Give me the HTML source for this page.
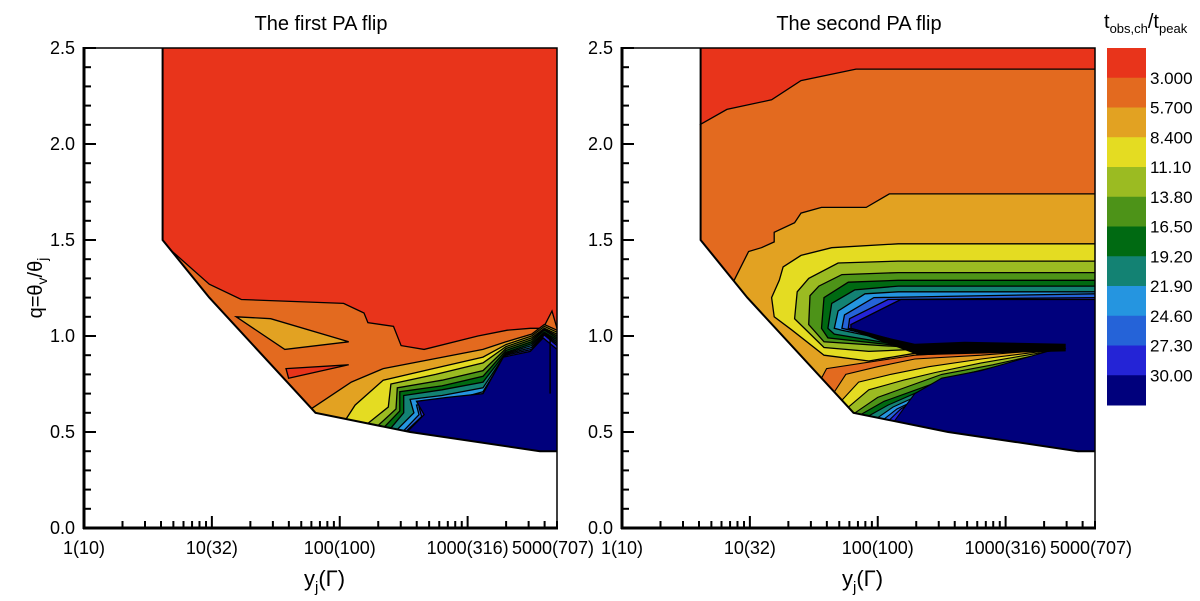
<!DOCTYPE html>
<html><head><meta charset="utf-8">
<style>
html,body{margin:0;padding:0;background:#fff;}
svg{display:block;font-family:"Liberation Sans",Arial,sans-serif;}
</style></head>
<body>
<svg id="chart" width="1200" height="601" viewBox="0 0 1200 601" xmlns="http://www.w3.org/2000/svg">
<g id="root"></g>
</svg>
<script>
// ---- data (x = log10(y_j), y = q) ----
const levelLabels = ["3.000","5.700","8.400","11.10","13.80","16.50","19.20","21.90","24.60","27.30","30.00"];
const levelColors = ["#e8341b","#e36a1f","#e2a222","#e4dc22","#9bbb22","#4d9318","#006a12","#138273","#2595e0","#2563d8","#2424d6","#00007c"];
const xTickValues = [1,10,100,1000,5000];
const xTickLabels = ["1(10)","10(32)","100(100)","1000(316)","5000(707)"];
const yTickValues = [0,0.5,1.0,1.5,2.0,2.5];
const yTickLabels = ["0.0","0.5","1.0","1.5","2.0","2.5"];
const domainBottom = [[0.615,1.5],[0.98,1.2],[1.81,0.6],[2.55,0.5],[3.565,0.4],[3.699,0.4]];
const domainLeftTop = 2.5;

// Left panel: level curves from the domain edge to the right edge (level index, points)
const leftCurves = [
 [1,[[0.68,1.45],[0.98,1.27],[1.23,1.19],[2.03,1.17],[2.19,1.12],[2.22,1.07],[2.42,1.05],[2.48,0.95],[2.66,0.93],[3.08,1.0],[3.31,1.03],[3.49,1.04],[3.59,1.04],[3.66,1.13],[3.699,1.04]]],
 [2,[[1.78,0.64],[2.09,0.76],[2.34,0.83],[2.73,0.88],[3.12,0.93],[3.3,0.97],[3.5,1.01],[3.6,1.06],[3.699,1.03]]],
 [3,[[2.05,0.59],[2.12,0.64],[2.34,0.77],[2.73,0.83],[3.12,0.89],[3.3,0.955],[3.5,1.0],[3.6,1.05],[3.699,1.02]]],
 [4,[[2.22,0.58],[2.38,0.63],[2.40,0.75],[2.75,0.80],[3.12,0.86],[3.3,0.945],[3.5,0.99],[3.6,1.04],[3.699,1.01]]],
 [5,[[2.30,0.58],[2.44,0.62],[2.45,0.73],[2.8,0.77],[3.12,0.82],[3.3,0.935],[3.5,0.98],[3.6,1.035],[3.699,1.0]]],
 [6,[[2.35,0.57],[2.47,0.61],[2.47,0.71],[2.8,0.74],[3.12,0.79],[3.3,0.925],[3.5,0.97],[3.6,1.03],[3.699,0.99]]],
 [7,[[2.40,0.56],[2.50,0.60],[2.50,0.69],[2.8,0.72],[3.12,0.76],[3.3,0.915],[3.5,0.96],[3.6,1.02],[3.699,0.98]]],
 [8,[[2.45,0.55],[2.58,0.60],[2.55,0.67],[2.8,0.69],[3.12,0.73],[3.3,0.91],[3.5,0.95],[3.6,1.015],[3.699,0.97]]],
 [9,[[2.50,0.53],[2.62,0.59],[2.60,0.64],[2.85,0.66],[3.12,0.71],[3.3,0.905],[3.5,0.94],[3.6,1.01],[3.699,0.96]]],
 [10,[[2.52,0.52],[2.64,0.58],[2.62,0.63],[2.85,0.65],[3.12,0.70],[3.3,0.90],[3.5,0.93],[3.6,1.005],[3.699,0.95]]],
 [11,[[2.53,0.51],[2.66,0.59],[2.60,0.66],[2.84,0.68],[3.12,0.70],[3.28,0.89],[3.49,0.92],[3.59,0.99],[3.699,0.93]]]
];
const leftIslands = [
 [2,[[1.19,1.10],[1.46,1.09],[2.07,0.97],[1.57,0.93]]],
 [0,[[1.58,0.83],[2.07,0.85],[1.60,0.78]]]
];
const leftSpike = [[3.645,1.0],[3.645,0.70]];

// Right panel: upper curves (right edge -> around -> diagonal/stripe)
const rightUpper = [
 [1,[[0.608,2.10],[0.82,2.18],[1.17,2.23],[1.40,2.33],[1.83,2.39],[3.699,2.39]]],
 [2,[[0.874,1.29],[0.99,1.44],[1.09,1.46],[1.19,1.49],[1.19,1.54],[1.35,1.59],[1.40,1.64],[1.56,1.67],[1.91,1.67],[2.09,1.74],[3.699,1.74]]]
];
const rightC = [
 [3,[[3.699,1.48],[2.16,1.48],[1.64,1.46],[1.40,1.42],[1.26,1.36],[1.23,1.29],[1.17,1.20],[1.19,1.10],[1.33,1.03],[1.58,0.90],[1.93,0.87],[2.29,0.91]]],
 [4,[[3.699,1.39],[2.16,1.39],[1.69,1.38],[1.46,1.30],[1.37,1.23],[1.35,1.09],[1.58,0.94],[1.93,0.92],[2.29,0.93]]],
 [5,[[3.699,1.33],[2.16,1.33],[1.72,1.32],[1.54,1.26],[1.47,1.21],[1.46,1.06],[1.58,0.97],[2.03,0.95],[2.29,0.94]]],
 [6,[[3.699,1.29],[2.16,1.29],[1.77,1.28],[1.58,1.20],[1.56,1.04],[1.61,0.99],[2.29,0.94]]],
 [7,[[3.699,1.26],[2.16,1.26],[1.82,1.24],[1.64,1.17],[1.61,1.04],[1.66,1.01],[2.29,0.94]]],
 [8,[[3.699,1.23],[2.16,1.23],[1.90,1.22],[1.69,1.13],[1.66,1.04],[1.72,1.03],[2.29,0.95]]],
 [9,[[3.699,1.22],[1.97,1.20],[1.74,1.11],[1.72,1.04],[2.29,0.95]]],
 [10,[[3.699,1.20],[2.08,1.19],[1.78,1.09],[1.77,1.04],[2.29,0.96]]],
 [11,[[3.699,1.19],[2.18,1.19],[1.79,1.06],[1.79,1.04],[2.29,0.95]]]
];
const rightTip = [3.47,0.935];
const rightWedges = [
 [1,[[1.56,0.78],[1.60,0.83],[2.29,0.90],[2.81,0.92]]],
 [2,[[1.66,0.72],[1.75,0.80],[2.0,0.84],[2.29,0.88],[2.81,0.90]]],
 [3,[[1.72,0.68],[1.85,0.76],[2.1,0.80],[2.4,0.84],[2.81,0.88]]],
 [4,[[1.77,0.64],[1.93,0.72],[2.2,0.77],[2.45,0.81],[2.81,0.86]]],
 [5,[[1.82,0.60],[2.0,0.68],[2.25,0.74],[2.5,0.80],[2.9,0.85]]],
 [6,[[1.87,0.59],[2.05,0.66],[2.3,0.72],[2.55,0.78],[2.95,0.845]]],
 [7,[[1.93,0.58],[2.08,0.64],[2.32,0.71],[2.6,0.77],[3.0,0.84]]],
 [8,[[2.0,0.57],[2.12,0.63],[2.35,0.70],[2.65,0.77],[3.03,0.84]]],
 [9,[[2.05,0.57],[2.15,0.62],[2.4,0.70],[2.7,0.78],[3.05,0.86]]],
 [10,[[2.09,0.56],[2.18,0.62],[2.43,0.72],[2.75,0.80],[3.06,0.865]]],
 [11,[[2.13,0.56],[2.29,0.70],[2.50,0.78],[2.81,0.82],[3.07,0.87],[3.33,0.92]]]
];
const rightStripe = [[1.75,1.04],[2.29,0.96],[2.68,0.97],[3.47,0.96],[3.47,0.92],[2.32,0.90]];

// ---- drawing ----
const NS="http://www.w3.org/2000/svg";
const root=document.getElementById('root');
function mk(tag,attrs,parent){const e=document.createElementNS(NS,tag);for(const k in attrs)e.setAttribute(k,attrs[k]);(parent||root).appendChild(e);return e;}
const XMAX=Math.log10(5000);
function bottomAt(lx){
  for(let i=0;i<domainBottom.length-1;i++){const a=domainBottom[i],b=domainBottom[i+1];
    if(lx>=a[0]&&lx<=b[0])return a[1]+(b[1]-a[1])*(lx-a[0])/(b[0]-a[0]);}
  return domainBottom[domainBottom.length-1][1];
}
function panel(x0,title,name){
  const W=473,top=48,bot=528;
  const sx=lx=>x0+lx/XMAX*W, sy=q=>bot-q/2.5*(bot-top);
  const g=mk('g',{});
  
  
  const P=pts=>pts.map(p=>sx(p[0]).toFixed(1)+','+sy(p[1]).toFixed(1)).join(' ');
  function curvePoly(pts){
    const c=pts.map(p=>p.slice());const s=c[0][0];
    if(c[0][0]>domainBottom[0][0]+0.001) c[0][1]=bottomAt(s);
    const back=[[XMAX,domainBottom[domainBottom.length-1][1]]];
    for(let i=domainBottom.length-1;i>=0;i--){const d=domainBottom[i];if(d[0]>s&&d[0]<XMAX)back.push(d);}
    return {poly:c.concat(back),line:c};
  }
  return {g,sx,sy,P,curvePoly};
}
function drawPanel(x0,title,name,which){
  const pn=panel(x0,title,name);const {g,sx,sy,P,curvePoly}=pn;
  const d=mk('polygon',{points:P([[domainBottom[0][0],domainLeftTop],[XMAX,domainLeftTop],[XMAX,0.4]].concat(domainBottom.slice().reverse())),fill:levelColors[0]},g);
  
  
  function fillCurve(lvl,pts,nm){
    const cp=curvePoly(pts);
    const e=mk('polygon',{points:P(cp.poly),fill:levelColors[lvl]},g);
    
    
    const l=mk('polyline',{points:P(cp.line),fill:'none',stroke:'#000','stroke-width':1.3},g);
    
    
  }
  function closed(lvl,pts,nm,stroke){
    const e=mk('polygon',{points:P(pts),fill:levelColors[lvl],stroke:stroke?'#000':'none','stroke-width':1.3},g);
    
    
  }
  if(which==='left'){
    leftCurves.forEach(c=>fillCurve(c[0],c[1],'region-level-'+c[0]));
    leftIslands.forEach(c=>closed(c[0],c[1],'island-level-'+c[0],true));
    const sp=mk('polyline',{points:P(leftSpike),stroke:'#000','stroke-width':1.5,fill:'none'},g);
    
    
  } else {
    rightUpper.forEach(c=>fillCurve(c[0],c[1],'region-level-'+c[0]));
    rightC.forEach(c=>{
      const pts=c[1].concat([rightTip,[XMAX,rightTip[1]]]);
      closed(c[0],pts,'band-level-'+c[0],false);
      const l=mk('polyline',{points:P(c[1]),fill:'none',stroke:'#000','stroke-width':1.3},g);
      
      
    });
    rightWedges.forEach(c=>{
      const cp=curvePoly(c[1].concat([rightTip,[XMAX,rightTip[1]]]));
      const e=mk('polygon',{points:P(cp.poly),fill:levelColors[c[0]]},g);
      
      
      const l=mk('polyline',{points:P(cp.line.slice(0,-1)),fill:'none',stroke:'#000','stroke-width':1.1},g);
      
      
    });
    const st=mk('polygon',{points:P(rightStripe),fill:'#000'},g);
    
    
  }
  const ol=mk('polyline',{points:P([[domainBottom[0][0],domainLeftTop]].concat(domainBottom)),fill:'none',stroke:'#000','stroke-width':2},g);
  
  
  const fr=mk('rect',{x:x0,y:48,width:473,height:480,fill:'none',stroke:'#000','stroke-width':1.5},g);
  
  
  mk('line',{x1:x0,y1:47,x2:x0,y2:529,stroke:'#000','stroke-width':3},g);
  mk('line',{x1:x0-1,y1:528,x2:x0+474,y2:528,stroke:'#000','stroke-width':3},g);
  for(let i=0;i<=25;i++){const q=i/10,y=sy(q),maj=i%5===0;
    mk('line',{x1:x0,y1:y,x2:x0+(maj?12:7),y2:y,stroke:'#000','stroke-width':2},g);}
  yTickValues.forEach((v,i)=>{const t=mk('text',{x:x0-9,y:sy(v)+6,'text-anchor':'end','font-size':18},g);t.textContent=yTickLabels[i];
    
    });
  for(let dec=0;dec<4;dec++)for(let m=1;m<=9;m++){const v=m*Math.pow(10,dec);if(v>5000||v===1)continue;
    const maj=m===1;mk('line',{x1:sx(Math.log10(v)),y1:528,x2:sx(Math.log10(v)),y2:528-(maj?12:7),stroke:'#000','stroke-width':2},g);}
  xTickValues.forEach((v,i)=>{const t=mk('text',{x:sx(Math.log10(v))+(i===4?-4:0),y:554,'text-anchor':'middle','font-size':18},g);t.textContent=xTickLabels[i];
    
    });
  const tt=mk('text',{x:x0+237,y:30,'text-anchor':'middle','font-size':20},g);tt.textContent=title;
  
  
  const xt=mk('text',{x:x0+220,y:586,'font-size':22},g);
  xt.innerHTML='y<tspan font-size="15" dy="6">j</tspan><tspan dy="-6">(Γ)</tspan>';
  
  
}
drawPanel(84,'The first PA flip','left-panel','left');
drawPanel(622,'The second PA flip','right-panel','right');
const yt=mk('text',{transform:'translate(42,288) rotate(-90)','text-anchor':'middle','font-size':20});
yt.innerHTML='q=θ<tspan font-size="14" dy="5">v</tspan><tspan dy="-5">/θ</tspan><tspan font-size="14" dy="5">j</tspan>';


const cb=mk('g',{});


const bandH=(405-48)/levelColors.length;
levelColors.forEach((c,i)=>{const r=mk('rect',{x:1107,y:48+i*bandH,width:39,height:bandH+0.5,fill:c},cb);
  
  });
levelLabels.forEach((l,i)=>{const t=mk('text',{x:1150,y:48+(i+1)*bandH+6,'font-size':17},cb);t.textContent=l;
  
  });
const ct=mk('text',{x:1104,y:28,'font-size':20});
ct.innerHTML='t<tspan font-size="13" dy="5">obs,ch</tspan><tspan dy="-5">/t</tspan><tspan font-size="13" dy="5">peak</tspan>';


</script>
</body></html>
